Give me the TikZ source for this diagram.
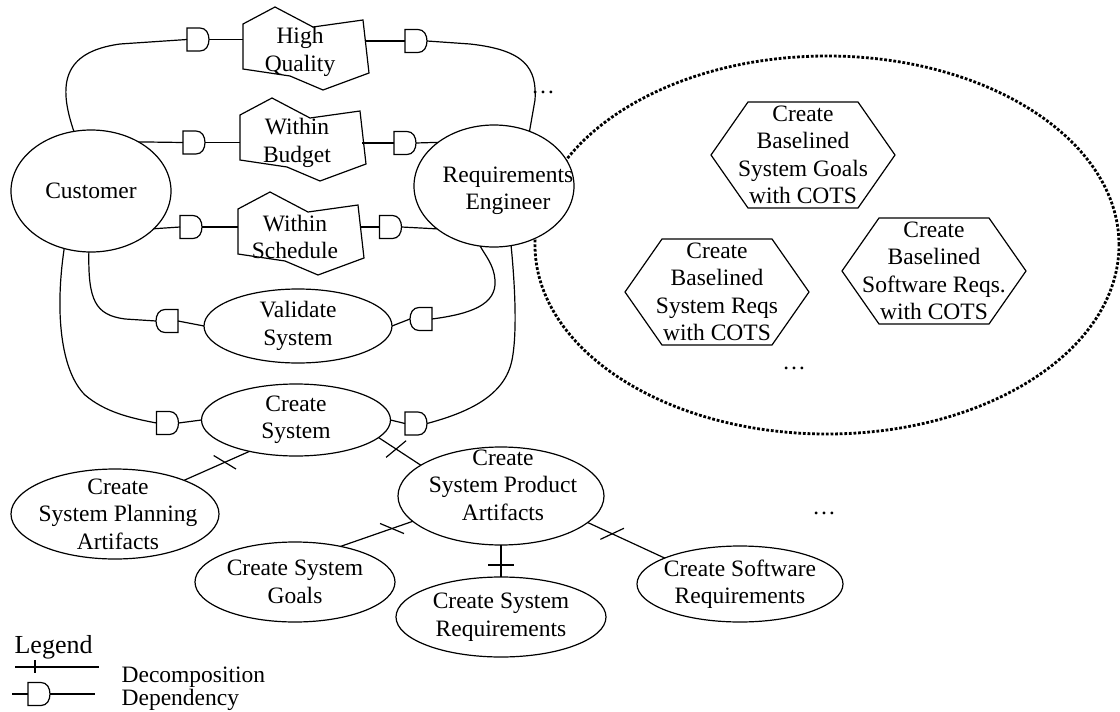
\documentclass[tikz,border=0pt]{standalone}
\usepackage{fontspec}
\setmainfont{Liberation Serif}
\usetikzlibrary{calc,shapes.geometric,decorations.markings}

\tikzset{
	goal/.style={ellipse, draw, fill=white, inner sep=0pt, outer sep=0pt},
	lbl/.style={align=center, inner sep=0pt},
	soft/.style={align=center, inner sep=0pt},
	task/.style={align=center, inner sep=0pt, outer sep=0pt, minimum width=184pt, minimum height=106pt},
	depbox/.style={inner sep=0pt, outer sep=0pt, minimum width=22pt, minimum height=23pt},
	dep/.style={fill=white},
	boundary/.style={line width=2.8pt, dash pattern=on 2.8pt off 1.8pt},
	decomp/.style 2 args={postaction={decorate, decoration={markings, mark=at position #1 with {\draw[rotate=#2] (-13,0) -- (13,0);}}}}
}
\newcommand\depE[1]{\draw[dep] (#1.north west) -- ([xshift=-9pt]#1.north east) .. controls ([xshift=-3pt]#1.north east) and ([yshift=6pt]#1.east) .. (#1.east) .. controls ([yshift=-6pt]#1.east) and ([xshift=-3pt]#1.south east) .. ([xshift=-9pt]#1.south east) -- (#1.south west) -- cycle;}
\newcommand\depW[1]{\draw[dep] (#1.north east) -- ([xshift=9pt]#1.north west) .. controls ([xshift=3pt]#1.north west) and ([yshift=6pt]#1.west) .. (#1.west) .. controls ([yshift=-6pt]#1.west) and ([xshift=3pt]#1.south west) .. ([xshift=9pt]#1.south west) -- (#1.south east) -- cycle;}
\newcommand\hexframe[1]{\draw (#1.west) -- ([xshift=37pt]#1.north west) -- ([xshift=-37pt]#1.north east) -- (#1.east) -- ([xshift=-37pt]#1.south east) -- ([xshift=37pt]#1.south west) -- cycle;}
\newcommand\softframe[1]{%
	\draw[shift={(#1.center)}] (-57,-28) -- (-25,-45) -- (13,-25) -- (63,-32) -- (69,21) -- (23,38) -- (-10,24) -- (-57,17) -- cycle;
	\coordinate (#1-l) at ([xshift=-57pt]#1.center);
	\coordinate (#1-r) at ([xshift=65pt]#1.center);}

\begin{document}
\begin{tikzpicture}[x=1pt, y=-1pt, line width=1.2pt, font=\fontsize{23.5pt}{27.5pt}\selectfont]
	\useasboundingbox (0,0) rectangle (1120,712);
	
	%%%%% COTS boundary %%%%%
	\draw[boundary] (827,245) ellipse [x radius=292pt, y radius=189pt];
	
	\node[task] (hg1) at (803,155) {Create\\Baselined\\System Goals\\with COTS}; \hexframe{hg1}
	\node[task] (hg2) at (717,292) {Create\\Baselined\\System Reqs\\with COTS}; \hexframe{hg2}
	\node[task] (hg3) at (934,271) {Create\\Baselined\\Software Reqs.\\with COTS}; \hexframe{hg3}
	\node (moreB) at (794,368) {\dots};
	
	%%%%% actors and goals %%%%%
	\node[goal, minimum width=160pt, minimum height=122pt, label={[lbl,name=custT]center:Customer}] (cust) at (91,191) {};
	\node[goal, minimum width=160pt, minimum height=122pt, label={[lbl,name=reT,xshift=14pt,yshift=-5pt]center:Requirements\\Engineer}] (re) at (494,186) {};
	\node[goal, minimum width=188pt, minimum height=74pt, label={[lbl,name=vsT]center:Validate\\System}] (vs) at (298,326) {};
	\node[goal, minimum width=189pt, minimum height=72pt, label={[lbl,name=csT]center:Create\\System}] (cs) at (296,420) {};
	\node[goal, minimum width=208pt, minimum height=90pt, label={[lbl,name=cspaT,xshift=3pt]center:Create\\System Planning\\Artifacts}] (cspa) at (115,514) {};
	\node[goal, minimum width=206pt, minimum height=98pt, label={[lbl,name=cspraT,xshift=2pt,yshift=11pt]center:Create\\System Product\\Artifacts}] (cspra) at (501,496) {};
	\node[goal, minimum width=200pt, minimum height=80pt, label={[lbl,name=csgT]center:Create System\\Goals}] (csg) at (295,582) {};
	\node[goal, minimum width=210pt, minimum height=80pt, label={[lbl,name=csrT]center:Create System\\Requirements}] (csr) at (501,617) {};
	\node[goal, minimum width=206pt, minimum height=76pt, label={[lbl,name=cswrT]center:Create Software\\Requirements}] (cswr) at (740,584) {};
	
	%%%%% softgoals %%%%%
	\node[soft] (hq) at (300,52) {High\\Quality}; \softframe{hq}
	\node[soft] (wb) at (297,143) {Within\\Budget}; \softframe{wb}
	\node[soft] (ws) at (295,237) {Within\\Schedule}; \softframe{ws}
	
	%%%%% dependencies %%%%%
	\node[depbox] (dhq1) at (198,39.5) {}; \depE{dhq1}
	\node[depbox] (dhq2) at (416,41) {}; \depE{dhq2}
	\node[depbox] (dwb1) at (194,142.5) {}; \depE{dwb1}
	\node[depbox] (dwb2) at (405,143) {}; \depE{dwb2}
	\node[depbox] (dws1) at (191,227) {}; \depE{dws1}
	\node[depbox] (dws2) at (390.5,227) {}; \depE{dws2}
	\node[depbox] (dvs1) at (167,321) {}; \depW{dvs1}
	\node[depbox] (dvs2) at (421,319) {}; \depW{dvs2}
	\node[depbox] (dcs1) at (167.5,423) {}; \depE{dcs1}
	\node[depbox] (dcs2) at (416,423.5) {}; \depE{dcs2}
	
	\draw (cust.106) .. controls (58,85) and (62,52) .. (120,44) -- (dhq1.west);
	\draw (dhq1.east) -- (dhq1.east -| hq-l);
	\draw (dhq2.west -| hq-r) -- (dhq2.west);
	\draw (dhq2.east) -- (470,44) .. controls (525,50) and (537,68) .. (535,100) -- (re.57);
	\node (moreA) at (543,92) {\dots};
	
	\draw (cust.46) -- (dwb1.west);
	\draw (dwb1.east) -- (dwb1.east -| wb-l);
	\draw (dwb2.west -| wb-r) -- (dwb2.west);
	\draw (dwb2.east) -- (re.142.5);
	
	\draw (cust.-31.5) -- (dws1.west);
	\draw (dws1.east) -- (dws1.east -| ws-l);
	\draw (dws2.west -| ws-r) -- (dws2.west);
	\draw (dws2.east) -- (re.217);
	
	\draw (cust.-92) .. controls (88,300) and (95,315) .. (125,319) -- (dvs1.west);
	\draw (dvs1.east) -- (vs.west);
	\draw (vs.east) -- (dvs2.west);
	\draw (dvs2.east) .. controls (470,314) and (497,305) .. (495,280) .. controls (494,265) and (485,255) .. (re.257);
	
	\draw (cust.245) .. controls (55,310) and (60,370) .. (85,395) .. controls (105,412) and (130,418) .. (dcs1.west);
	\draw (dcs1.east) -- (cs.west);
	\draw (cs.east) -- (dcs2.west);
	\draw (dcs2.east) .. controls (470,412) and (505,395) .. (512,360) .. controls (518,330) and (514,275) .. (re.-74);
	
	%%%%% decompositions %%%%%
	\draw[decomp={27pt}{-55}] (cs.214) -- (cspa.26);
	\draw[decomp={21pt}{73}] (cs.-12) -- (cspra.159);
	\draw[decomp={22pt}{-42}] (cspra.196) -- (csg.38);
	\draw[decomp={20pt}{90}] (cspra.south) -- (csr.north);
	\draw[decomp={27pt}{50}] (cspra.-17) -- (cswr.161);
	\node (moreC) at (824,513) {\dots};
	
	%%%%% legend %%%%%
	\node[anchor=base west, inner sep=0pt, font=\fontsize{26pt}{28pt}\selectfont] (legT) at (14,653) {Legend};
	\coordinate (lgA) at (15,667);
	\coordinate (lgB) at (99,667);
	\draw (lgA) -- (lgB);
	\draw ([xshift=20pt]lgA) ++(0,-7) -- ++(0,13);
	\node[anchor=base west, inner sep=0pt] (legDc) at (121,682) {Decomposition};
	\coordinate (ldA) at (12,694);
	\coordinate (ldB) at (95,694);
	\node[depbox] (ldD) at (39,694) {}; \depE{ldD}
	\draw (ldA) -- (ldD.west);
	\draw (ldD.east) -- (ldB);
	\node[anchor=base west, inner sep=0pt] (legDp) at (121,705) {Dependency};
\end{tikzpicture}
\end{document}
